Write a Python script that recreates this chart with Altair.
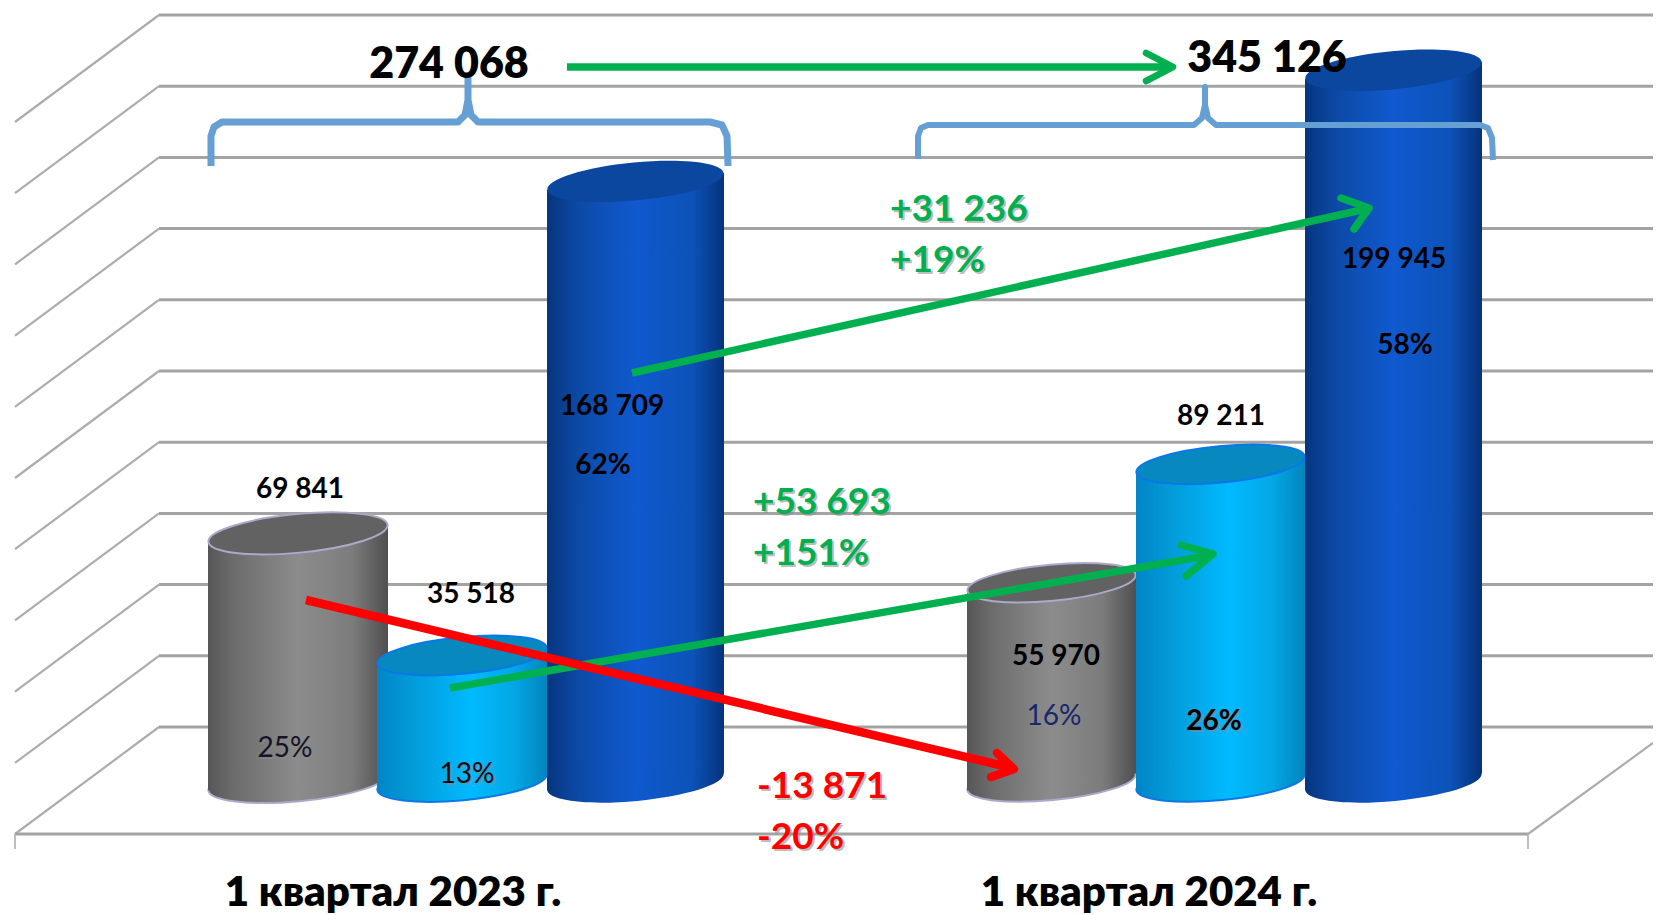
import math
import altair as alt
import pandas as pd

# ---- values ----
periods = ["1 квартал 2023 г.", "1 квартал 2024 г."]
series = ["gray", "cyan", "blue"]
values_2023 = [69841, 35518, 168709]
values_2024 = [55970, 89211, 199945]
shares_2023 = ["25%", "13%", "62%"]
shares_2024 = ["16%", "26%", "58%"]
totals = ["274 068", "345 126"]
grid_values = [0, 20000, 40000, 60000, 80000, 100000, 120000, 140000, 160000, 180000, 200000]

# ---- layout ----
W, H = 1645, 907
PX_PER_UNIT = 0.00356
BASE_PX = 782.0


def val(py):
    """page pixel row -> value units on the y scale"""
    return (BASE_PX - py) / PX_PER_UNIT


XS = alt.Scale(domain=[8, 8 + W], range=[0, W], nice=False, zero=False)
YS = alt.Scale(domain=[val(915), val(8)], range=[H, 0], nice=False, zero=False)


def X(f):
    return alt.X(f, type="quantitative", scale=XS, axis=None)


def Y(f):
    return alt.Y(f, type="quantitative", scale=YS, axis=None)


def grad(stops):
    n = [{"offset": o, "color": c} for o, c in stops]
    return {"gradient": "linear", "x1": 0, "y1": 0, "x2": 1, "y2": 0, "stops": n}


GRAD = {
    "gray": grad([(0, "#565656"), (.14, "#6c6c6c"), (.5, "#8c8c8c"), (.8, "#7c7c7c"), (1, "#4f4f4f")]),
    "cyan": grad([(0, "#0285c6"), (.2, "#039ad8"), (.55, "#00baff"), (.8, "#04a8e6"), (1, "#0285bd")]),
    "blue": grad([(0, "#07357f"), (.18, "#0c4aa6"), (.5, "#1059cf"), (.82, "#0c52b8"), (1, "#06337c")]),
}
TOP = {"gray": "#626262", "cyan": "#0789bf", "blue": "#0b479f"}
EDGE = {"gray": "#aaaacb", "cyan": "#0a78e6", "blue": "#0a3f8f"}

# tilted ellipse as a unit symbol path (half-width 1)
TILT_DEG = -5.4
MINOR = 0.215
_k = 0.5523
_c, _s = math.cos(math.radians(TILT_DEG)), math.sin(math.radians(TILT_DEG))


def _p(x, y):
    return f"{x * _c - y * _s:.4f},{x * _s + y * _c:.4f}"


ELLIPSE = (
    f"M{_p(-1, 0)}"
    f"C{_p(-1, -_k * MINOR)} {_p(-_k, -MINOR)} {_p(0, -MINOR)}"
    f"C{_p(_k, -MINOR)} {_p(1, -_k * MINOR)} {_p(1, 0)}"
    f"C{_p(1, _k * MINOR)} {_p(_k, MINOR)} {_p(0, MINOR)}"
    f"C{_p(-_k, MINOR)} {_p(-1, _k * MINOR)} {_p(-1, 0)}Z"
)
TILT_UNITS = 8.5 / PX_PER_UNIT

layers = []

# ---- wall, side lines and floor, through the value scale ----
RIGHT = 8 + W
grid_df = pd.DataFrame({"v": grid_values, "x0": 159, "x1": RIGHT, "sx": 15})
GRID = "#a3a3a3"
layers.append(alt.Chart(grid_df).mark_rule(color=GRID, strokeWidth=3, yOffset=-55).encode(
    x=X("x0"), x2="x1", y=Y("v")))
layers.append(alt.Chart(grid_df).mark_rule(color="#adadad", strokeWidth=2.2, yOffset=-55, y2Offset=52).encode(
    x=X("x0"), x2="sx", y=Y("v"), y2="v"))
floor_df = pd.DataFrame({"v": [0], "x0": [15], "x1": [1528], "xr": [RIGHT]})
layers.append(alt.Chart(floor_df).mark_rule(color=GRID, strokeWidth=3, yOffset=52).encode(
    x=X("x0"), x2="x1", y=Y("v")))
layers.append(alt.Chart(floor_df).mark_rule(color="#adadad", strokeWidth=2.2, yOffset=52, y2Offset=-39).encode(
    x=X("x1"), x2="xr", y=Y("v"), y2="v"))
layers.append(alt.Chart(floor_df).mark_rule(color="#adadad", strokeWidth=1.6, yOffset=52, y2Offset=67).encode(
    x=X("x0"), y=Y("v"), y2="v"))
layers.append(alt.Chart(floor_df).mark_rule(color="#adadad", strokeWidth=1.6, yOffset=52, y2Offset=67).encode(
    x=X("x1"), y=Y("v"), y2="v"))

# ---- cylinders ----
edges = {0: [(208, 388), (377, 547), (547, 724)], 1: [(967, 1136), (1136, 1305), (1305, 1482)]}
all_values = {0: values_2023, 1: values_2024}

for g in (0, 1):
    for name, value, (xa, xb) in zip(series, all_values[g], edges[g]):
        w = xb - xa
        cx = (xa + xb) / 2
        one = pd.DataFrame({"x": [cx], "v": [value], "b": [0]})
        stroke = EDGE[name]
        sw = 2 if name != "blue" else 0
        layers.append(alt.Chart(one).mark_point(
            shape=ELLIPSE, size=w * w, filled=True, opacity=1, fill=GRAD[name],
            stroke=stroke, strokeWidth=sw).encode(x=X("x"), y=Y("b")))
        body = pd.DataFrame({
            "x": [xa, xb],
            "t": [value - TILT_UNITS, value + TILT_UNITS],
            "b": [-TILT_UNITS, TILT_UNITS],
        })
        layers.append(alt.Chart(body).mark_area(fill=GRAD[name], opacity=1, clip=False).encode(
            x=X("x"), y=Y("t"), y2="b"))
        layers.append(alt.Chart(one).mark_point(
            shape=ELLIPSE, size=w * w, filled=True, opacity=1, fill=TOP[name],
            stroke=stroke, strokeWidth=sw).encode(x=X("x"), y=Y("v")))


# ---- brackets and arrows ----
def path(points, color, width, cap="butt"):
    d = pd.DataFrame({"i": range(len(points)),
                      "x": [p[0] for p in points],
                      "y": [val(p[1]) for p in points]})
    return alt.Chart(d).mark_line(color=color, strokeWidth=width, strokeCap=cap, strokeJoin="round").encode(
        x=X("x"), y=Y("y"), order="i:Q")


BR = "#659fd3"
layers.append(path([(211, 166), (211, 136), (214, 127), (222, 122), (458, 122), (465, 115), (468, 100),
                    (468, 78), (468, 100), (471, 115), (478, 122), (710, 122), (722, 125), (727, 136),
                    (728, 166)], BR, 7))
layers.append(path([(918, 159), (918, 136), (921, 128), (928, 125), (1194, 125), (1202, 118), (1205, 105),
                    (1205, 87), (1205, 105), (1208, 118), (1216, 125), (1480, 125), (1488, 128),
                    (1492, 138), (1493, 160)], BR, 6))

GREEN, RED = "#00b050", "#ff0000"
layers.append(path([(567, 67), (1172, 67)], GREEN, 7.5))
layers.append(path([(1146, 53), (1173, 67), (1146, 81)], GREEN, 6.5, "round"))
layers.append(path([(632, 373), (1366, 209)], GREEN, 7.5))
layers.append(path([(1341, 198), (1369, 208), (1354, 229)], GREEN, 7.5, "round"))
layers.append(path([(450, 688), (1211, 555)], GREEN, 7.5))
layers.append(path([(1181, 545), (1213, 554), (1186, 576)], GREEN, 7.5, "round"))
layers.append(path([(306, 600), (1012, 768)], RED, 8.5))
layers.append(path([(997, 753), (1014, 769), (991, 777)], RED, 8.5, "round"))


# ---- text ----
def label(text, cx, cy, size, color="#000000", weight="bold", align="center", shadow=False):
    d = pd.DataFrame({"x": [cx], "y": [val(cy)], "t": [text]})
    base = dict(font="Lato", fontSize=size, fontWeight=weight, align=align, baseline="middle")
    if shadow:
        layers.append(alt.Chart(d).mark_text(color="#8a8a8a", opacity=0.55, dx=2, dy=2, **base).encode(
            x=X("x"), y=Y("y"), text="t:N"))
    layers.append(alt.Chart(d).mark_text(color=color, **base).encode(x=X("x"), y=Y("y"), text="t:N"))


def fmt(v):
    return f"{v:,}".replace(",", " ")


LB = 28
label(fmt(values_2023[0]), 300, 490, LB)
label(fmt(values_2023[1]), 471, 595, LB)
label(fmt(values_2023[2]), 612, 407, LB)
label(shares_2023[2], 603, 466, LB)
label(shares_2023[0], 285, 749, LB, color="#141428", weight="normal", shadow=True)
label(shares_2023[1], 467, 775, LB, color="#0a0a14", weight="normal", shadow=True)
label(fmt(values_2024[0]), 1056, 657, LB)
label(shares_2024[0], 1054, 717, LB, color="#18286a", weight="normal", shadow=True)
label(fmt(values_2024[1]), 1221, 417, LB)
label(shares_2024[1], 1214, 722, LB, shadow=True)
label(fmt(values_2024[2]), 1394, 260, LB)
label(shares_2024[2], 1405, 346, LB)

label(totals[0], 449, 65, 43, weight=800)
label(totals[1], 1267, 59, 43, weight=800)

label("+31 236", 890, 210, 37, GREEN, align="left", shadow=True)
label("+19%", 890, 261, 37, GREEN, align="left", shadow=True)
label("+53 693", 753, 503, 37, GREEN, align="left", shadow=True)
label("+151%", 753, 554, 37, GREEN, align="left", shadow=True)
label("-13 871", 757, 787, 37, RED, align="left", shadow=True)
label("-20%", 757, 838, 37, RED, align="left", shadow=True)

label(periods[0], 393, 893, 42, weight=800)
label(periods[1], 1149, 893, 42, weight=800)

chart = alt.layer(*layers).properties(
    width=W, height=H, padding=0, autosize="none", background="white"
).configure_view(stroke=None)

chart.save("out.html", embed_options={"renderer": "svg", "actions": False})
